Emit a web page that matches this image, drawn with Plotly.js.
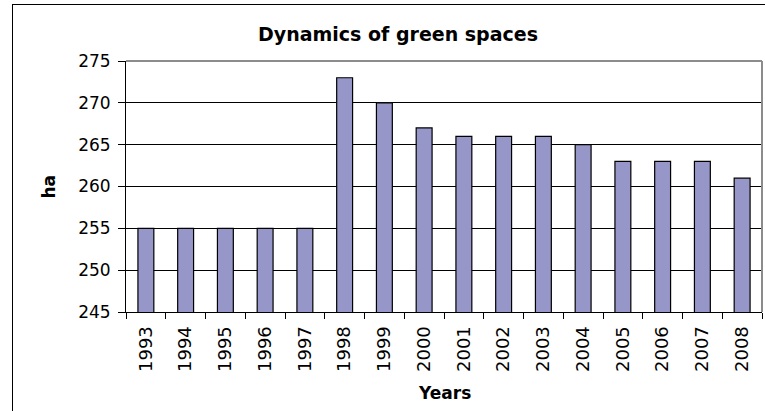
<!DOCTYPE html>
<html>
<head>
<meta charset="utf-8">
<script src="https://cdn.plot.ly/plotly-3.0.1.min.js"></script>
<style>
  html, body { margin: 0; padding: 0; background: #fff; }
  #wrap { position: relative; width: 765px; height: 411px; overflow: hidden; }
  #chart { position: absolute; left: 0; top: 0; width: 765px; height: 411px; }
  #frame { position: absolute; left: 12px; top: 4px; width: 800px; height: 500px;
           border-left: 1.5px solid #000; border-top: 1.5px solid #000; pointer-events: none; }
</style>
</head>
<body>
<div id="wrap">
  <div id="chart"></div>
  <div id="frame"></div>
</div>
<script>
const years = ["1993","1994","1995","1996","1997","1998","1999","2000","2001","2002","2003","2004","2005","2006","2007","2008"];
const hectares = [255,255,255,255,255,273,270,267,266,266,266,265,263,263,263,261];
const yTicks = [245,250,255,260,265,270,275];
const chartTitle = "Dynamics of green spaces";
const xTitle = "Years";
const yTitle = "ha";

const FONT = "DejaVu Sans, Liberation Sans, Arial, sans-serif";

const trace = {
  type: "bar",
  x: years,
  y: hectares,
  base: 0,
  marker: { color: "#9696C8", line: { color: "#000000", width: 1.2 } },
  width: 0.4,
  hoverinfo: "x+y"
};

const layout = {
  width: 765,
  height: 411,
  margin: { l: 126, r: 3, t: 61, b: 99, pad: 0 },
  paper_bgcolor: "rgba(0,0,0,0)",
  plot_bgcolor: "#ffffff",
  showlegend: false,
  title: {
    text: "<b>" + chartTitle + "</b>",
    font: { family: FONT, size: 19, color: "#000" },
    xref: "container", yref: "container",
    x: 398 / 765, y: 1 - 34 / 411,
    xanchor: "center", yanchor: "middle"
  },
  xaxis: {
    type: "category",
    tickson: "boundaries",
    ticks: "outside",
    ticklen: 6,
    tickcolor: "#000",
    tickwidth: 1,
    tickangle: -90,
    ticklabelstandoff: 6,
    tickfont: { family: FONT, size: 18, color: "#000" },
    showgrid: false,
    showline: true,
    linecolor: "#000",
    linewidth: 1,
    zeroline: false,
    fixedrange: true
  },
  yaxis: {
    range: [245, 275],
    tickvals: yTicks,
    ticktext: yTicks.map(String),
    ticks: "outside",
    ticklen: 7,
    tickcolor: "#000",
    tickwidth: 1,
    tickfont: { family: FONT, size: 17, color: "#000" },
    ticklabelstandoff: 4,
    showgrid: true,
    gridcolor: "#000",
    gridwidth: 1,
    showline: true,
    linecolor: "#000",
    linewidth: 1,
    zeroline: false,
    fixedrange: true
  },
  shapes: [
    { type: "line", xref: "paper", yref: "paper", x0: 0, x1: 1, y0: 1, y1: 1,
      line: { color: "#8c8c8c", width: 2 }, layer: "above" },
    { type: "line", xref: "paper", yref: "paper", x0: 1, x1: 1, y0: 0, y1: 1,
      line: { color: "#8c8c8c", width: 2 }, layer: "above" }
  ],
  annotations: [
    { text: "<b>" + yTitle + "</b>", xref: "paper", yref: "paper",
      x: (48 - 126) / 636, y: 0.5, xanchor: "center", yanchor: "middle",
      textangle: -90, showarrow: false,
      font: { family: FONT, size: 17, color: "#000" } },
    { text: "<b>" + xTitle + "</b>", xref: "paper", yref: "paper",
      x: 0.5, y: (311.7 - 393) / 250.7, xanchor: "center", yanchor: "middle",
      showarrow: false,
      font: { family: FONT, size: 17, color: "#000" } }
  ]
};

Plotly.newPlot("chart", [trace], layout, { displayModeBar: false, staticPlot: true });
</script>
</body>
</html>
